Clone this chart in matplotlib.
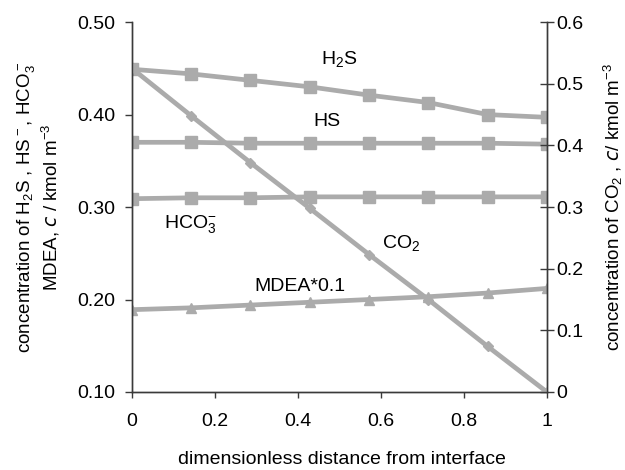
import numpy as np
import matplotlib
matplotlib.use('Agg')
import matplotlib.pyplot as plt

plt.rcParams['font.family'] = ['Liberation Sans', 'DejaVu Sans']
plt.rcParams['mathtext.default'] = 'regular'

# dimensionless distance, 8 grid points
dist = [0, 1/7, 2/7, 3/7, 4/7, 5/7, 6/7, 1]

h2s = [0.449, 0.444, 0.437, 0.430, 0.421, 0.413, 0.400, 0.397]
hs = [0.370, 0.370, 0.369, 0.369, 0.369, 0.369, 0.369, 0.368]
hco3 = [0.309, 0.310, 0.310, 0.311, 0.311, 0.311, 0.311, 0.311]
mdea = [0.189, 0.191, 0.194, 0.197, 0.200, 0.203, 0.207, 0.212]
co2 = [0.525, 0.448, 0.372, 0.298, 0.223, 0.150, 0.074, 0.0]

xticks = [0, 0.2, 0.4, 0.6, 0.8, 1]
left_ticks = [0.10, 0.20, 0.30, 0.40, 0.50]
right_ticks = [0, 0.1, 0.2, 0.3, 0.4, 0.5, 0.6]

grey = '#ababab'
axc = '#3a3a3a'
fs = 14

fig = plt.figure(figsize=(6.25, 4.7), dpi=100)
ax = fig.add_axes([0.211, 0.166, 0.664, 0.787])
ax2 = ax.twinx()

lw = 3.4
ax.plot(dist, h2s, color=grey, lw=lw, marker='s', ms=8)
ax.plot(dist, hs, color=grey, lw=lw, marker='s', ms=8)
ax.plot(dist, hco3, color=grey, lw=lw, marker='s', ms=8)
ax.plot(dist, mdea, color=grey, lw=lw, marker='^', ms=7)
ax2.plot(dist, co2, color=grey, lw=lw, marker='D', ms=5)

ax.set_xlim(0, 1)
ax.set_ylim(0.10, 0.50)
ax2.set_ylim(0, 0.6)

ax.set_xticks(xticks)
ax.set_xticklabels(['0', '0.2', '0.4', '0.6', '0.8', '1'])
ax.set_yticks(left_ticks)
ax.set_yticklabels(['%.2f' % v for v in left_ticks])
ax2.set_yticks(right_ticks)
ax2.set_yticklabels(['0'] + ['%.1f' % v for v in right_ticks[1:]])

for a in (ax, ax2):
    a.spines['top'].set_visible(False)
    for s in a.spines.values():
        s.set_color(axc)
        s.set_linewidth(1.0)
    a.tick_params(colors=axc, labelcolor='black', labelsize=fs, width=1.0)
ax.tick_params(axis='y', direction='out', length=5, pad=7)
ax.tick_params(axis='x', direction='out', length=4, pad=11)
ax2.tick_params(axis='y', direction='inout', length=9.5, pad=2)

ax.set_xlabel('dimensionless distance from interface', fontsize=fs)
ax.xaxis.set_label_coords(0.506, -0.16)
ax.set_ylabel('concentration of H$_2$S , HS$^-$, HCO$_3^-$\nMDEA, $\\mathit{c}$ / kmol m$^{-3}$',
              fontsize=13.5, linespacing=1.2)
ax.yaxis.set_label_coords(-0.168, 0.5)
ax2.set_ylabel('concentration of CO$_2$ , $\\mathit{c}$/ kmol m$^{-3}$', fontsize=13.5)
ax2.yaxis.set_label_coords(1.132, 0.5)

ax.text(0.50, 0.460, 'H$_2$S', fontsize=fs, ha='center', va='center')
ax.text(0.47, 0.392, 'HS', fontsize=fs, ha='center', va='center')
ax.text(0.14, 0.282, 'HCO$_3^{-}$', fontsize=fs, ha='center', va='center')
ax.text(0.65, 0.261, 'CO$_2$', fontsize=fs, ha='center', va='center')
ax.text(0.405, 0.214, 'MDEA*0.1', fontsize=fs, ha='center', va='center')

fig.savefig('out.png', dpi=100)
